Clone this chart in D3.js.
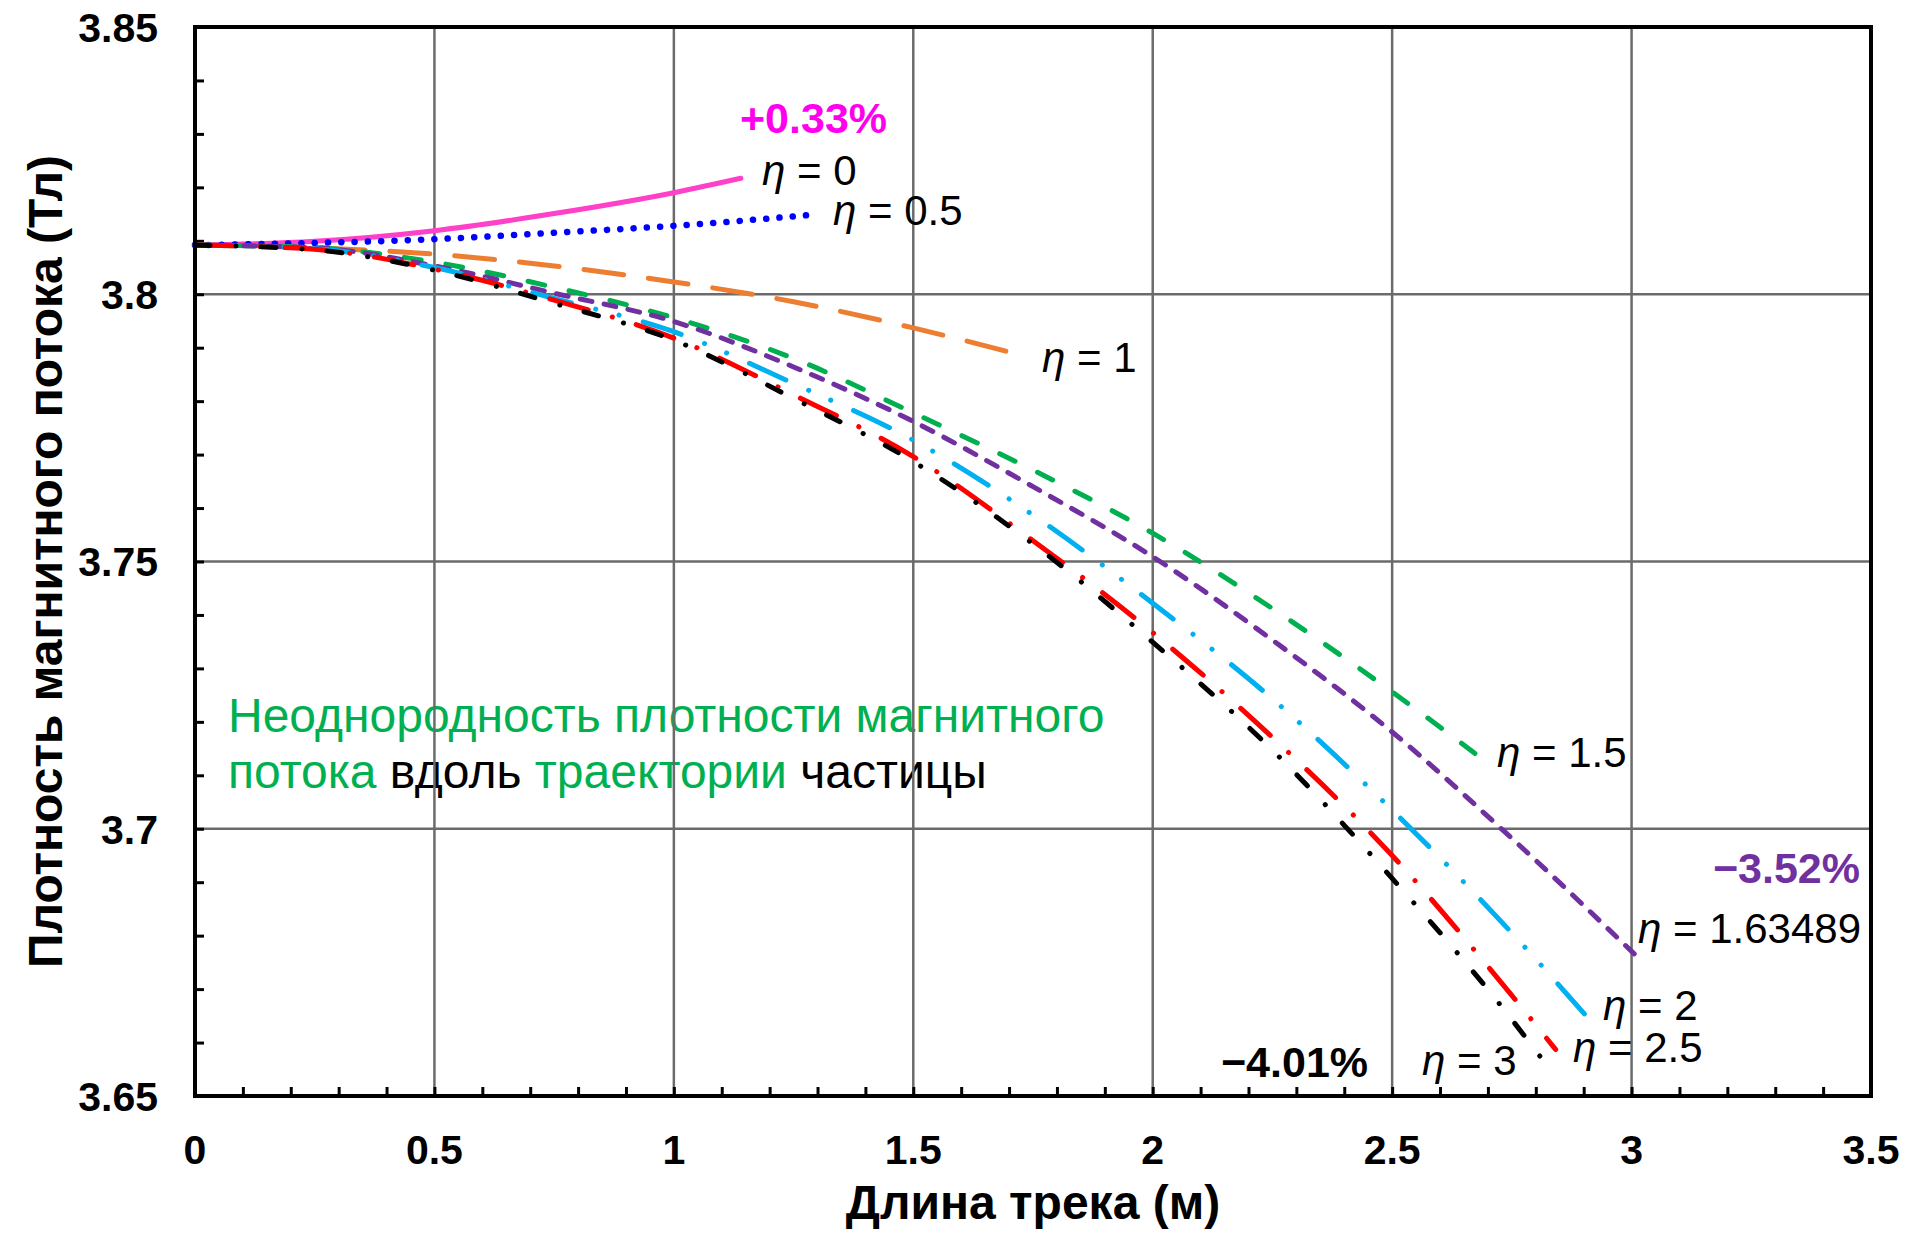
<!DOCTYPE html>
<html>
<head>
<meta charset="utf-8">
<script src="https://cdn.jsdelivr.net/npm/d3@7"></script>
<style>
html,body{margin:0;padding:0;background:#fff;}
svg{display:block;}
text{font-family:"Liberation Sans", Arial, sans-serif;}
</style>
</head>
<body>
<svg id="chart" width="1909" height="1233"></svg>
<script>
// ---------------- DATA ----------------
const xTicks = [0, 0.5, 1, 1.5, 2, 2.5, 3, 3.5];
const xTickLabels = ["0", "0.5", "1", "1.5", "2", "2.5", "3", "3.5"];
const yTicks = [3.65, 3.7, 3.75, 3.8, 3.85];
const yTickLabels = ["3.65", "3.7", "3.75", "3.8", "3.85"];

const seriesNames = ["η = 0", "η = 0.5", "η = 1", "η = 1.5", "η = 1.63489", "η = 2", "η = 2.5", "η = 3"];

const x_eta0 = [0, 0.25, 0.5, 0.75, 1.0, 1.14];
const y_eta0 = [3.8092, 3.8099, 3.8119, 3.8151, 3.8190, 3.8217];

const x_eta05 = [0, 0.25, 0.5, 0.75, 1.0, 1.281];
const y_eta05 = [3.8092, 3.8096, 3.8103, 3.8115, 3.8128, 3.8148];

const x_eta1 = [0, 0.25, 0.5, 0.75, 1.0, 1.25, 1.5, 1.726];
const y_eta1 = [3.8092, 3.8087, 3.8075, 3.8053, 3.8023, 3.7986, 3.7937, 3.7886];

const x_eta15 = [0, 0.25, 0.5, 0.75, 1.0, 1.25, 1.5, 1.75, 2.0, 2.25, 2.5, 2.673];
const y_eta15 = [3.8092, 3.8087, 3.8060, 3.8013, 3.7956, 3.7880, 3.7778, 3.7671, 3.7553, 3.7412, 3.7256, 3.7141];

const x_eta163 = [0, 0.25, 0.5, 0.75, 1.0, 1.25, 1.5, 1.75, 2.0, 2.25, 2.5, 2.75, 3.023];
const y_eta163 = [3.8092, 3.8087, 3.8053, 3.8002, 3.7949, 3.7864, 3.7762, 3.7640, 3.7509, 3.7353, 3.7181, 3.6982, 3.6751];

const x_eta2 = [0, 0.25, 0.5, 0.75, 1.0, 1.25, 1.5, 1.75, 2.0, 2.25, 2.5, 2.75, 2.903];
const y_eta2 = [3.8092, 3.8085, 3.8050, 3.7992, 3.7930, 3.7833, 3.7727, 3.7587, 3.7422, 3.7243, 3.7035, 3.6805, 3.6652];

const x_eta25 = [0, 0.25, 0.5, 0.75, 1.0, 1.25, 1.5, 1.75, 2.0, 2.25, 2.5, 2.75, 2.8415];
const y_eta25 = [3.8092, 3.8084, 3.8047, 3.7989, 3.7918, 3.7812, 3.7696, 3.7539, 3.7367, 3.7171, 3.6950, 3.6688, 3.6587];

const x_eta3 = [0, 0.25, 0.5, 0.75, 1.0, 1.25, 1.5, 1.75, 2.0, 2.25, 2.5, 2.75, 2.809];
const y_eta3 = [3.8092, 3.8083, 3.8045, 3.7983, 3.7914, 3.7805, 3.7687, 3.7533, 3.7349, 3.7147, 3.6907, 3.6643, 3.6574];

// ---------------- SETUP ----------------
const svg = d3.select("#chart");
const L = 195, R = 1871, T = 27, B = 1096;
const x = d3.scaleLinear().domain([0, 3.5]).range([L, R]);
const y = d3.scaleLinear().domain([3.65, 3.85]).range([B, T]);

svg.append("rect").attr("width", 1909).attr("height", 1233).attr("fill", "#fff");

// ---------------- ANNOTATION TEXT (under gridlines) ----------------
const GREEN = "#00B050";
const note = svg.append("g").attr("font-size", 48);
note.append("text").attr("x", 228).attr("y", 732).attr("fill", GREEN)
  .text("Неоднородность плотности магнитного");
const t2 = note.append("text").attr("x", 228).attr("y", 788);
t2.append("tspan").attr("fill", GREEN).text("потока");
t2.append("tspan").attr("fill", "#000").text(" вдоль ");
t2.append("tspan").attr("fill", GREEN).text("траектории");
t2.append("tspan").attr("fill", "#000").text(" частицы");

// ---------------- GRID ----------------
const grid = svg.append("g").attr("stroke", "#6b6b6b").attr("stroke-width", 2.5);
xTicks.filter(v => v > 0 && v < 3.5).forEach(v => {
  grid.append("line").attr("x1", x(v)).attr("x2", x(v)).attr("y1", T).attr("y2", B);
});
yTicks.filter(v => v > 3.65 && v < 3.85).forEach(v => {
  grid.append("line").attr("x1", L).attr("x2", R).attr("y1", y(v)).attr("y2", y(v));
});

// ---------------- AXES ----------------
const xAxis = d3.axisBottom(x).tickValues(d3.range(0, 3.5001, 0.1)).tickSize(-9).tickFormat("");
const gx = svg.append("g").attr("transform", `translate(0,${B})`).call(xAxis);
gx.select(".domain").remove();
gx.selectAll(".tick line").attr("stroke", "#000").attr("stroke-width", 3);

const yAxis = d3.axisLeft(y).tickValues(d3.range(3.65, 3.8501, 0.01)).tickSize(-9).tickFormat("");
const gy = svg.append("g").attr("transform", `translate(${L},0)`).call(yAxis);
gy.select(".domain").remove();
gy.selectAll(".tick line").attr("stroke", "#000").attr("stroke-width", 3);

// tick labels
const tl = svg.append("g").attr("font-size", 41).attr("font-weight", "bold").attr("fill", "#000");
xTicks.forEach((v, i) => {
  tl.append("text").attr("x", x(v)).attr("y", 1164).attr("text-anchor", "middle").text(xTickLabels[i]);
});
yTicks.forEach((v, i) => {
  tl.append("text").attr("x", 158).attr("y", y(v)).attr("dy", "0.36em").attr("text-anchor", "end").text(yTickLabels[i]);
});

// axis titles
svg.append("text").attr("x", (L + R) / 2).attr("y", 1219).attr("text-anchor", "middle")
  .attr("font-size", 48).attr("font-weight", "bold").text("Длина трека (м)");
svg.append("text").attr("transform", `translate(62,${(T + B) / 2}) rotate(-90)`).attr("text-anchor", "middle")
  .attr("font-size", 48).attr("font-weight", "bold").text("Плотность магнитного потока (Тл)");

// ---------------- SERIES ----------------
const series = [
  {name: seriesNames[0], xs: x_eta0,  ys: y_eta0,  color: "#FF40C8", w: 5,   dash: null,                       cap: "round"},
  {name: seriesNames[1], xs: x_eta05, ys: y_eta05, color: "#0000FF", w: 6.5, dash: "0.1,13.2",                 cap: "round"},
  {name: seriesNames[2], xs: x_eta1,  ys: y_eta1,  color: "#ED7D31", w: 5,   dash: "40,25",                    cap: "round"},
  {name: seriesNames[3], xs: x_eta15, ys: y_eta15, color: "#00B050", w: 5,   dash: "17,25",                    cap: "round"},
  {name: seriesNames[4], xs: x_eta163,ys: y_eta163,color: "#7030A0", w: 5,   dash: "12,12.4",                  cap: "round"},
  {name: seriesNames[5], xs: x_eta2,  ys: y_eta2,  color: "#00B0F0", w: 5,   dash: "40,25,0.1,24,0.1,25",      cap: "round"},
  {name: seriesNames[6], xs: x_eta25, ys: y_eta25, color: "#FF0000", w: 5,   dash: "40,25,0.1,25",             cap: "round"},
  {name: seriesNames[7], xs: x_eta3,  ys: y_eta3,  color: "#000000", w: 5,   dash: "15,26,0.1,25",             cap: "round"}
];

const line = d3.line().x(d => x(d[0])).y(d => y(d[1])).curve(d3.curveMonotoneX);
const plot = svg.append("g");
series.forEach(s => {
  const pts = s.xs.map((v, i) => [v, s.ys[i]]);
  plot.append("path").datum(pts).attr("d", line)
    .attr("fill", "none").attr("stroke", s.color).attr("stroke-width", s.w)
    .attr("stroke-linecap", s.cap).attr("stroke-linejoin", "round")
    .attr("stroke-dasharray", s.dash);
});

// ---------------- FRAME ----------------
svg.append("rect").attr("x", L).attr("y", T).attr("width", R - L).attr("height", B - T)
  .attr("fill", "none").attr("stroke", "#000").attr("stroke-width", 4);

// ---------------- LABELS ----------------
const lab = svg.append("g").attr("font-size", 42).attr("fill", "#000");
const labelPos = [[762, 185], [833, 225], [1042, 372], [1497, 767], [1638, 943], [1603, 1020], [1573, 1062], [1422, 1075]];
seriesNames.forEach((n, i) => {
  const t = lab.append("text").attr("x", labelPos[i][0]).attr("y", labelPos[i][1]);
  t.append("tspan").attr("font-style", "italic").text("η");
  t.append("tspan").text(n.slice(1));
});

const pct = svg.append("g").attr("font-size", 43).attr("font-weight", "bold");
pct.append("text").attr("x", 740).attr("y", 133).attr("fill", "#FF00EE").text("+0.33%");
pct.append("text").attr("x", 1860).attr("y", 883).attr("text-anchor", "end").attr("fill", "#7030A0").text("\u22123.52%");
pct.append("text").attr("x", 1221).attr("y", 1077).attr("fill", "#000").text("\u22124.01%");
</script>
</body>
</html>
